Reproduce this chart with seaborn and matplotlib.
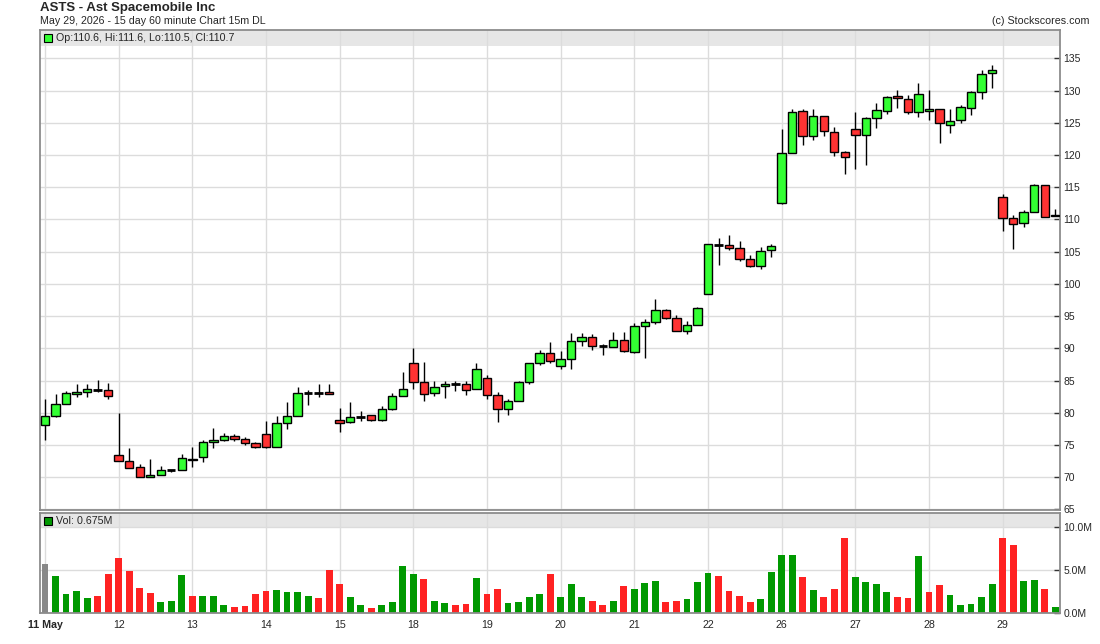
import numpy as np
import pandas as pd
import seaborn as sns
import matplotlib.pyplot as plt
from matplotlib.patches import Rectangle

# --- values: 60 minute bars, 7 per session ---
day_labels = ["11 May", "12", "13", "14", "15", "18", "19", "20", "21", "22", "26", "27", "28", "29"]
bars_per_day = 7

opens = [78.1, 79.5, 81.3, 82.9, 83.2, 83.5, 83.5,
         73.4, 72.5, 71.6, 70.0, 70.3, 71.1, 71.1,
         72.6, 73.1, 75.4, 75.8, 76.4, 75.9, 75.3,
         76.7, 74.7, 78.4, 79.5, 83.0, 83.05, 83.3,
         78.9, 78.55, 79.4, 79.6, 78.85, 80.6, 82.65,
         87.8, 84.8, 83.1, 84.2, 84.5, 84.5, 83.7,
         85.4, 82.8, 80.6, 81.9, 84.8, 87.8, 89.3,
         87.3, 88.3, 91.2, 91.8, 90.35, 90.25, 91.3,
         89.45, 93.5, 94.1, 96.0, 94.75, 92.7, 93.65,
         98.45, 106.0, 106.0, 105.55, 103.85, 102.75, 105.25,
         112.5, 120.3, 126.9, 122.9, 126.1, 123.6, 120.5,
         124.05, 123.15, 125.8, 126.9, 129.15, 128.65, 126.6,
         126.8, 127.1, 124.6, 125.5, 127.25, 129.7, 132.65,
         113.45, 110.15, 109.4, 111.1, 115.3, 110.6]
highs = [82.2, 82.9, 83.4, 84.5, 84.5, 85.1, 84.6,
         80.0, 74.6, 72.1, 72.9, 71.7, 71.1, 73.6,
         74.7, 75.8, 77.7, 76.9, 76.7, 76.3, 75.5,
         78.7, 79.5, 81.7, 84.0, 83.5, 84.4, 84.5,
         80.7, 81.7, 80.3, 79.7, 81.0, 83.0, 86.3,
         90.0, 87.9, 85.0, 85.0, 85.0, 84.9, 87.7,
         85.9, 83.2, 82.1, 85.0, 87.8, 89.7, 91.0,
         89.6, 92.4, 92.4, 92.3, 90.7, 92.55, 92.55,
         93.95, 94.6, 97.7, 96.15, 95.1, 94.3, 96.45,
         106.2, 107.1, 107.6, 106.7, 104.5, 105.7, 106.2,
         124.1, 127.2, 127.2, 127.1, 126.1, 124.4, 120.6,
         126.7, 125.95, 128.0, 129.15, 130.1, 129.3, 131.2,
         130.1, 127.1, 127.1, 127.75, 130.0, 133.2, 134.0,
         113.9, 110.7, 111.45, 115.45, 115.3, 111.6]
lows = [75.8, 79.4, 81.3, 82.4, 82.4, 83.2, 82.2,
        72.5, 71.4, 70.0, 70.0, 70.3, 70.85, 71.1,
        71.6, 72.4, 74.5, 75.6, 75.6, 74.95, 74.6,
        74.5, 74.7, 77.5, 79.5, 81.2, 82.45, 82.85,
        77.0, 78.4, 78.7, 78.75, 78.75, 80.4, 82.55,
        83.7, 81.8, 82.55, 82.3, 83.4, 82.7, 83.7,
        82.1, 78.5, 79.6, 81.9, 84.5, 87.45, 87.8,
        86.8, 86.8, 90.3, 89.8, 88.9, 90.2, 89.45,
        89.25, 88.5, 93.75, 94.5, 92.7, 92.2, 93.55,
        98.4, 102.9, 105.3, 103.5, 102.55, 102.3, 104.1,
        112.35, 120.3, 121.6, 122.25, 122.9, 119.9, 117.1,
        117.9, 118.5, 124.2, 126.3, 127.35, 126.3, 125.95,
        125.5, 121.9, 123.45, 124.9, 126.2, 128.65, 130.45,
        108.25, 105.35, 108.75, 111.1, 110.45, 110.5]
closes = [79.5, 81.4, 83.0, 83.2, 83.7, 83.5, 82.6,
          72.5, 71.5, 70.0, 70.3, 71.1, 71.1, 73.0,
          72.9, 75.4, 75.8, 76.35, 75.9, 75.3, 74.75,
          74.7, 78.4, 79.5, 83.0, 83.0, 83.05, 82.9,
          78.4, 79.4, 79.4, 78.85, 80.6, 82.6, 83.7,
          84.8, 82.9, 84.0, 84.5, 84.5, 83.55, 86.8,
          82.8, 80.6, 81.9, 84.8, 87.8, 89.3, 88.1,
          88.4, 91.1, 91.8, 90.4, 90.35, 91.3, 89.6,
          93.5, 94.1, 96.0, 94.75, 92.7, 93.65, 96.3,
          106.2, 106.0, 105.55, 103.8, 102.75, 105.1, 105.9,
          120.3, 126.7, 122.9, 126.1, 123.75, 120.5, 119.7,
          123.15, 125.8, 127.0, 129.0, 128.8, 126.6, 129.5,
          127.1, 124.9, 125.2, 127.4, 129.7, 132.5, 133.2,
          110.3, 109.25, 111.1, 115.3, 110.45, 110.7]

# volume in millions
volumes = [5.7, 4.3, 2.2, 2.6, 1.75, 2.0, 4.6,
           6.4, 4.9, 2.9, 2.3, 1.3, 1.4, 4.45,
           2.0, 2.0, 2.0, 0.94, 0.7, 0.82, 2.2,
           2.6, 2.7, 2.5, 2.5, 2.0, 1.75, 5.0,
           3.4, 1.9, 0.94, 0.6, 0.94, 1.3, 5.5,
           4.6, 4.0, 1.4, 1.2, 0.94, 1.05, 4.1,
           2.2, 2.8, 1.2, 1.3, 1.9, 2.2, 4.6,
           1.9, 3.4, 1.9, 1.4, 1.0, 1.4, 3.2,
           2.8, 3.5, 3.7, 1.3, 1.4, 1.65, 3.6,
           4.65, 4.3, 2.6, 2.0, 1.3, 1.65, 4.8,
           6.7, 6.7, 4.2, 2.7, 1.9, 2.8, 8.7,
           4.2, 3.6, 3.4, 2.5, 1.9, 1.8, 6.6,
           2.5, 3.3, 2.1, 0.96, 1.1, 1.9, 3.4,
           8.7, 7.9, 3.7, 3.85, 2.8, 0.675]
# volume bar colour per session: u = close up, d = close down, n = first bar
vol_dir_days = ["nuuuudd", "dddduuu", "duuuddd", "duuuudd", "duuduuu", "uduuddu", "dduuuud",
                "uuuddud", "uuudduu", "udddduu", "uududdd", "uuuuddu", "dduuuuu", "dduudu"]
vol_dir = list("".join(vol_dir_days))

W, H = 1100, 644


def fx(x):
    return x / W


def fy(y):
    return 1 - y / H


sns.set_style("white")
plt.rcParams['font.family'] = ['Liberation Sans', 'DejaVu Sans']

fig = plt.figure(figsize=(11, 6.44), dpi=100)
ax = fig.add_axes([fx(40), fy(510), 1020 / W, 480 / H])
axv = fig.add_axes([fx(40), fy(613.3), 1020 / W, 100.3 / H])

idx = np.arange(len(closes))
o = np.array(opens)
hi = np.array(highs)
lo = np.array(lows)
c = np.array(closes)
day_starts = np.arange(len(day_labels)) * bars_per_day
xlim = (-0.475, 96.45)
frame = '#8c8c8c'
grid = '#dcdcdc'

# --- price panel ---
ax.set_axisbelow(True)
ax.add_patch(Rectangle((0, 1 - 16 / 480), 1, 16 / 480, transform=ax.transAxes,
                       facecolor='#e6e6e6', edgecolor='none', zorder=0.3))
ax.vlines(idx, lo, hi, color='black', lw=1, zorder=2)
flat = c == o
body_col = np.where(c >= o, '#33ff33', '#ff3333')
ax.bar(idx[~flat], np.abs(c - o)[~flat], bottom=np.minimum(o, c)[~flat], width=0.8,
       color=body_col[~flat], edgecolor='black', linewidth=1, zorder=3)
ax.hlines(c[flat], idx[flat] - 0.4, idx[flat] + 0.4, color='black', lw=2, zorder=3)

ax.set_xlim(*xlim)
ax.set_ylim(64.92, 139.39)
ax.set_xticks(day_starts)
ax.set_yticks(range(65, 140, 5))
ax.yaxis.tick_right()
ax.grid(True, color=grid, lw=1)
ax.tick_params(axis='x', length=0, labelbottom=False)
ax.tick_params(axis='y', direction='in', length=4, width=1, color='#333333',
               labelsize=7.5, pad=2.5, right=True, left=False)

# --- volume panel ---
vdf = pd.DataFrame({"bar": idx, "vol": volumes, "dir": vol_dir})
axv.set_axisbelow(True)
axv.add_patch(Rectangle((0, 1 - 15 / 100.3), 1, 15 / 100.3, transform=axv.transAxes,
                        facecolor='#e6e6e6', edgecolor='none', zorder=0.3))
sns.barplot(data=vdf, x="bar", y="vol", hue="dir",
            palette={"n": "#888888", "u": "#009900", "d": "#ff2222"},
            native_scale=True, dodge=False, width=0.65, saturation=1,
            errorbar=None, legend=False, linewidth=0, ax=axv)
axv.set_xlim(*xlim)
axv.set_ylim(0, 11.62)
axv.set_xlabel("")
axv.set_ylabel("")
axv.set_xticks(day_starts)
axv.set_xticklabels(day_labels)
axv.get_xticklabels()[0].set_fontweight('bold')
axv.set_yticks([0, 5, 10])
axv.set_yticklabels(["0.0M", "5.0M", "10.0M"])
axv.yaxis.tick_right()
axv.grid(True, color=grid, lw=1)
axv.tick_params(axis='x', direction='out', length=3, color='#333333', labelsize=7.7, pad=2)
axv.tick_params(axis='y', direction='in', length=4, width=1, color='#333333',
                labelsize=7.5, pad=2.5, right=True, left=False)

for a in (ax, axv):
    for s in a.spines.values():
        s.set_color(frame)
        s.set_linewidth(1.3)

# --- header texts and legends ---
fig.text(fx(40), fy(8), "ASTS - Ast Spacemobile Inc", fontsize=9.5, fontweight='bold',
         ha='left', va='center')
fig.text(fx(40), fy(21), "May 29, 2026 - 15 day 60 minute Chart 15m DL", fontsize=7.7,
         ha='left', va='center')
fig.text(fx(1089), fy(21), "(c) Stockscores.com", fontsize=7.7, ha='right', va='center')

fig.add_artist(Rectangle((fx(44), fy(42)), 8 / W, 8 / H, transform=fig.transFigure,
                         facecolor='#33ff33', edgecolor='black', lw=0.8))
fig.text(fx(56), fy(38), f"Op:{opens[-1]}, Hi:{highs[-1]}, Lo:{lows[-1]}, Cl:{closes[-1]}",
         fontsize=7.7, ha='left', va='center')
fig.add_artist(Rectangle((fx(44), fy(525)), 8 / W, 8 / H, transform=fig.transFigure,
                         facecolor='#009900', edgecolor='black', lw=0.8))
fig.text(fx(56), fy(521), f"Vol: {volumes[-1]}M", fontsize=7.7, ha='left', va='center')

fig.savefig("out.png", dpi=100)
